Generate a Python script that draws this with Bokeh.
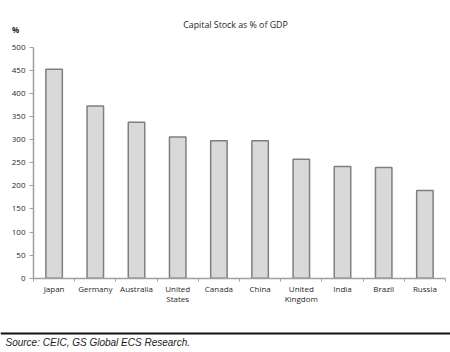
from bokeh.plotting import figure
from bokeh.models import (Range1d, FixedTicker, Label, ColumnDataSource, Span,
                          LinearAxis)
from bokeh.embed import file_html
from bokeh.resources import INLINE

countries = ["Japan", "Germany", "Australia", "United\nStates", "Canada", "China",
             "United\nKingdom", "India", "Brazil", "Russia"]
capital_stock = [453, 373, 338, 306, 298, 298, 258, 242, 240, 190]
y_ticks = [0, 50, 100, 150, 200, 250, 300, 350, 400, 450, 500]
title_text = "Capital Stock as % of GDP"
unit_text = "%"
source_text = "Source: CEIC, GS Global ECS Research."

FONT = "Open Sans"
n = len(countries)
y_max = 500
centers = [i + 0.5 for i in range(n)]

# canvas geometry (pixels) of the plotting area inside the full 450x352 frame
W, H = 450, 352
AX_L, AX_R, AX_T, AX_B = 33.0, 445.0, 47.0, 277.7
kx = (AX_R - AX_L) / n          # px per category
ky = (AX_B - AX_T) / y_max      # px per unit


def dx(px):
    return (px - AX_L) / kx


def dy(py):
    return (AX_B - py) / ky


p = figure(width=W, height=H, output_backend="svg", toolbar_location=None,
           x_range=Range1d(dx(0), dx(W)), y_range=Range1d(dy(H), dy(0)),
           x_axis_type=None, y_axis_type=None, min_border=0)
p.outline_line_color = None
p.xgrid.grid_line_color = None
p.ygrid.grid_line_color = None

src = ColumnDataSource(dict(x=centers, top=capital_stock))
p.vbar(x="x", top="top", width=0.4, bottom=0, source=src,
       fill_color="#d9d9d9", line_color="#7f7f7f", line_width=1.5)

xaxis = LinearAxis(fixed_location=0, bounds=(0, n))
xaxis.ticker = FixedTicker(ticks=centers, minor_ticks=list(range(n + 1)))
xaxis.major_label_overrides = {c: lab for c, lab in zip(centers, countries)}
xaxis.major_tick_line_color = None
xaxis.major_tick_out = 0
xaxis.major_tick_in = 0
xaxis.minor_tick_out = 3
xaxis.minor_tick_in = 0
xaxis.minor_tick_line_color = "#a0a0a0"
xaxis.axis_line_color = "#a0a0a0"
xaxis.axis_line_width = 1.5
xaxis.major_label_text_font = FONT
xaxis.major_label_text_font_size = "8px"
xaxis.major_label_text_color = "#1f1f1f"
xaxis.major_label_text_line_height = 0.88
xaxis.major_label_standoff = 2
p.add_layout(xaxis, "below")

yaxis = LinearAxis(fixed_location=0, bounds=(0, y_max))
yaxis.ticker = FixedTicker(ticks=y_ticks, minor_ticks=[])
yaxis.major_tick_out = 4
yaxis.major_tick_in = 0
yaxis.minor_tick_out = 0
yaxis.minor_tick_in = 0
yaxis.major_tick_line_color = "#a0a0a0"
yaxis.axis_line_color = "#a0a0a0"
yaxis.axis_line_width = 1.5
yaxis.major_label_text_font = FONT
yaxis.major_label_text_font_size = "8px"
yaxis.major_label_text_color = "#1f1f1f"
yaxis.major_label_standoff = 4
p.add_layout(yaxis, "left")

p.add_layout(Label(x=dx(235), y=dy(24), text=title_text, text_font=FONT,
                   text_font_size="8.8px", text_color="#262626",
                   text_align="center", text_baseline="middle"))
p.add_layout(Label(x=dx(15), y=dy(29), text=unit_text, text_font=FONT,
                   text_font_size="8px", text_color="#262626", text_font_style="bold",
                   text_align="center", text_baseline="middle"))
p.add_layout(Span(location=dy(333), dimension="width",
                  line_color="#111111", line_width=2))
p.add_layout(Label(x=dx(5), y=dy(342), text=source_text, text_font="Liberation Sans",
                   text_font_size="10px", text_font_style="italic", text_color="#222222",
                   text_align="left", text_baseline="middle"))

open("out.html", "w").write(file_html(p, INLINE))
